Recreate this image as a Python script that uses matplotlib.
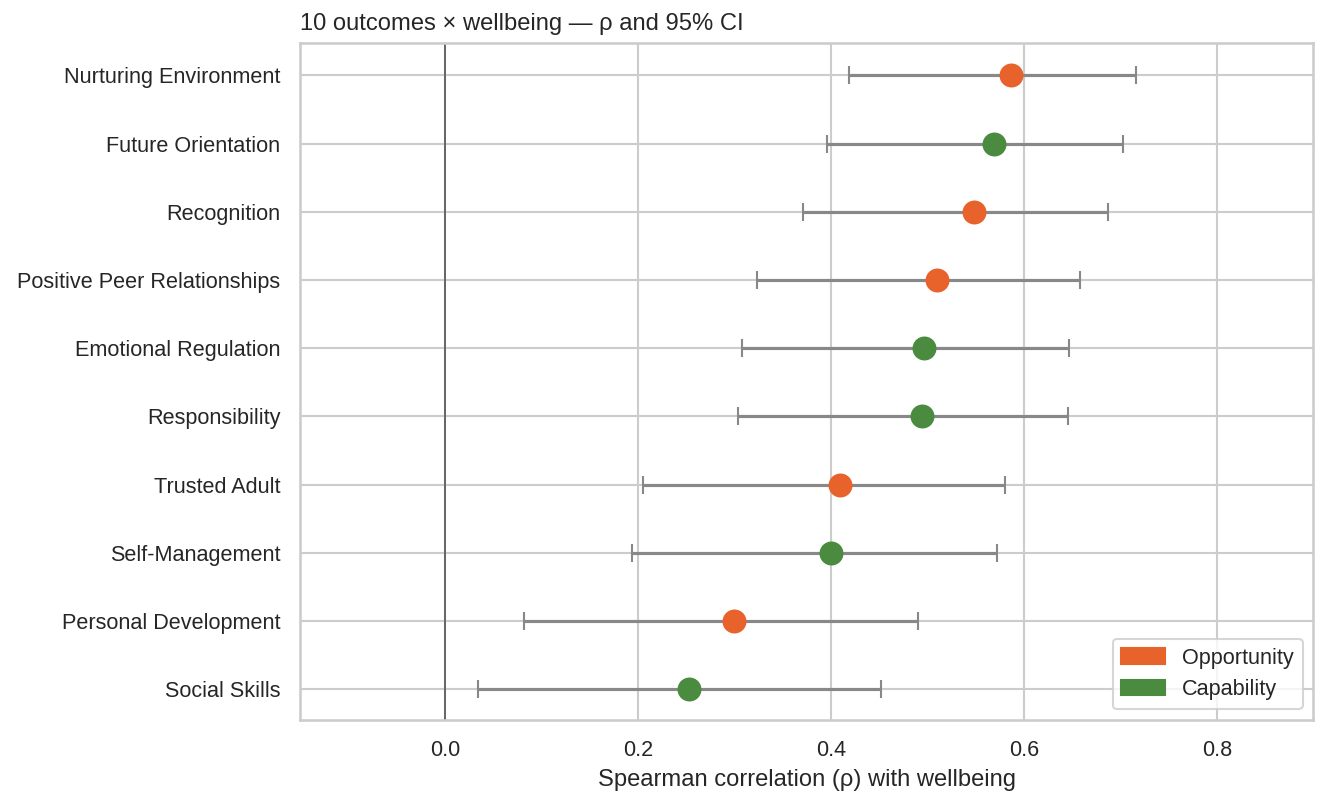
import matplotlib
matplotlib.use("Agg")
import matplotlib.pyplot as plt
import seaborn as sns
from matplotlib.patches import Patch

outcomes = ["Nurturing Environment", "Future Orientation", "Recognition",
            "Positive Peer Relationships", "Emotional Regulation", "Responsibility",
            "Trusted Adult", "Self-Management", "Personal Development", "Social Skills"]
rho = [0.587, 0.569, 0.548, 0.510, 0.497, 0.494, 0.409, 0.400, 0.300, 0.253]
ci_low = [0.419, 0.396, 0.371, 0.323, 0.308, 0.304, 0.205, 0.194, 0.082, 0.034]
ci_high = [0.716, 0.703, 0.687, 0.658, 0.647, 0.646, 0.580, 0.572, 0.490, 0.452]
kind = ["Opportunity", "Capability", "Opportunity", "Opportunity", "Capability",
        "Capability", "Opportunity", "Capability", "Opportunity", "Capability"]

colors = {"Opportunity": "#E8622C", "Capability": "#4A8B3F"}

sns.set_theme(style="whitegrid")
plt.rcParams["font.family"] = ["Liberation Sans", "DejaVu Sans"]

fig = plt.figure(figsize=(1328 / 150, 807 / 150), dpi=150)
ax = fig.add_axes([0.226, 0.108, 0.763, 0.839])

n = len(outcomes)
for i, name in enumerate(outcomes):
    y = n - 1 - i
    ax.errorbar(rho[i], y, xerr=[[rho[i] - ci_low[i]], [ci_high[i] - rho[i]]],
                fmt="none", ecolor="#888888", elinewidth=1.5, capsize=4.5,
                capthick=1.0, zorder=2)
    ax.plot(rho[i], y, "o", color=colors[kind[i]], markersize=10.5, zorder=3)

ax.axvline(0, color="#555555", lw=0.8, zorder=1)
ax.set_yticks(range(n))
ax.set_yticklabels(outcomes[::-1], fontsize=10.4)
ax.set_xticks([0.0, 0.2, 0.4, 0.6, 0.8])
ax.set_xticklabels(["0.0", "0.2", "0.4", "0.6", "0.8"], fontsize=10.4)
ax.set_xlim(-0.15, 0.9)
ax.set_ylim(-0.45, 9.48)
ax.set_xlabel("Spearman correlation (\u03c1) with wellbeing", fontsize=11.4)
ax.set_title("10 outcomes \u00d7 wellbeing \u2014 \u03c1 and 95% CI", loc="left", fontsize=11.4)

handles = [Patch(color=colors[k], label=k) for k in ["Opportunity", "Capability"]]
ax.legend(handles=handles, loc="lower right", fontsize=10.4)

fig.savefig("out.png", dpi=150)
